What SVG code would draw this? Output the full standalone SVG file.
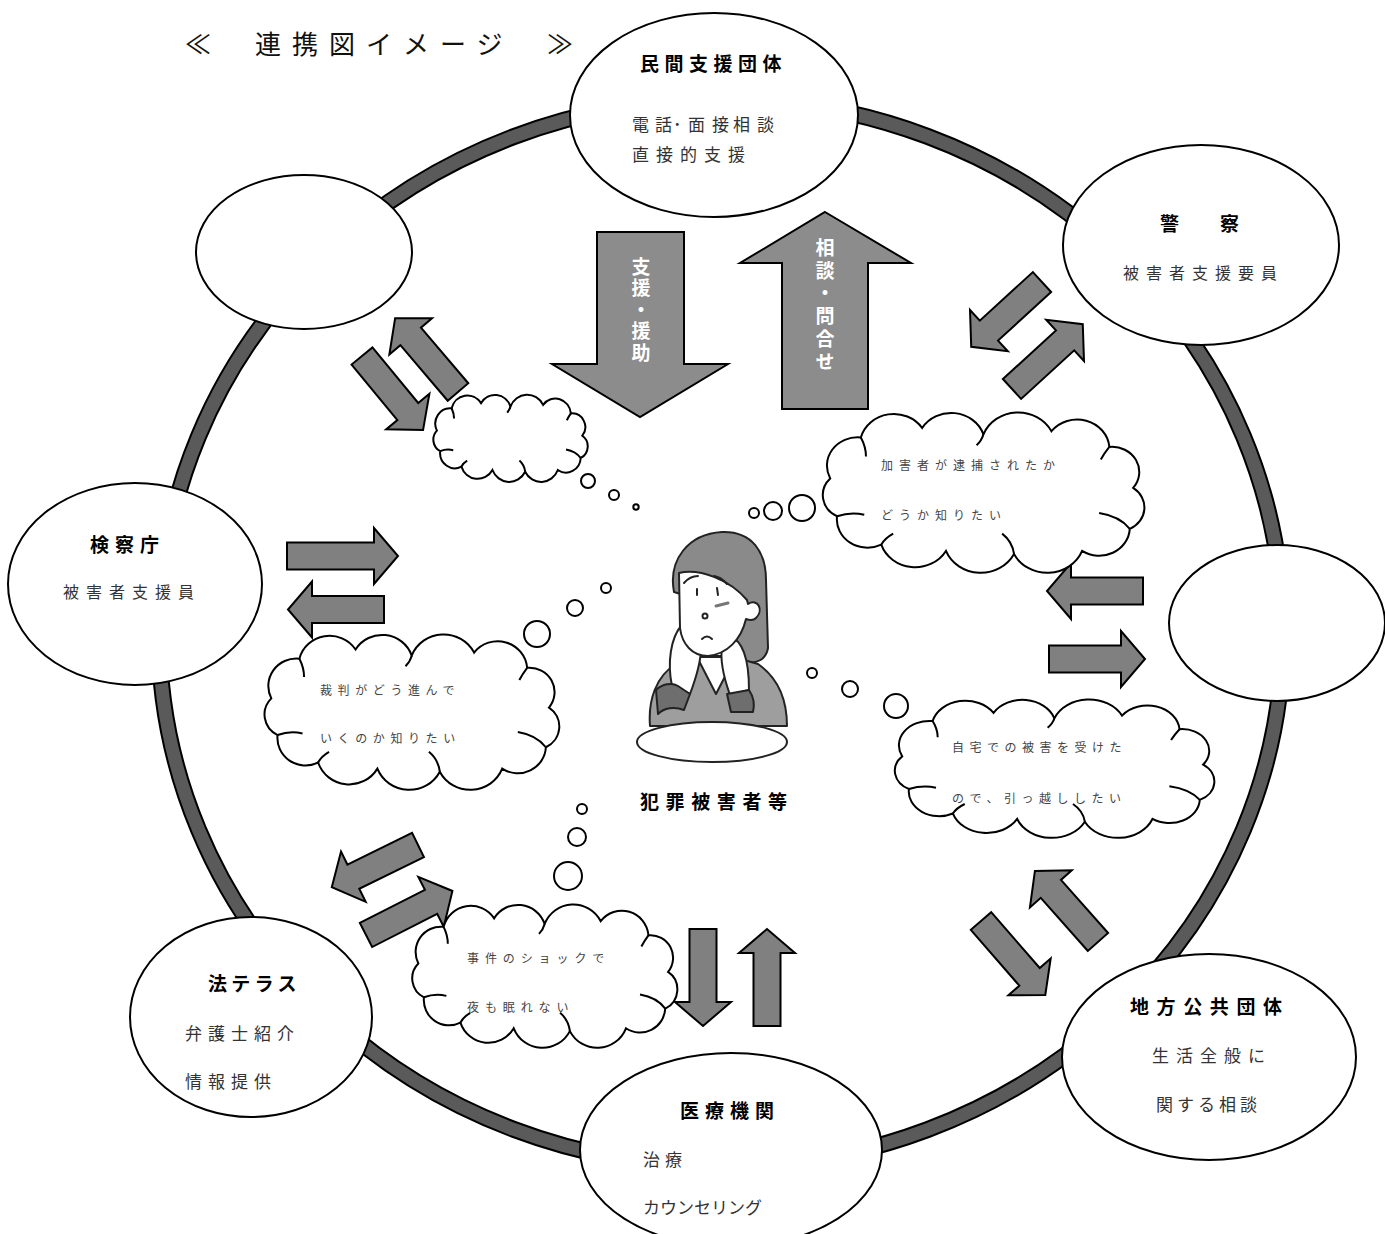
<svg xmlns="http://www.w3.org/2000/svg" xmlns:xlink="http://www.w3.org/1999/xlink" width="1385" height="1234" viewBox="0 0 1385 1234">
  <style>
    .node { fill: #fff; stroke: #000; stroke-width: 2; }
    .head { font-family: "Noto Sans CJK JP", sans-serif; font-weight: 700; font-size: 19px; fill: #000; }
    .sub { font-family: "Noto Sans CJK JP", sans-serif; font-weight: 400; font-size: 17px; fill: #333; }
    .small { font-family: "Noto Sans CJK JP", sans-serif; font-weight: 400; font-size: 16px; fill: #333; }
    .say { font-family: "Noto Sans CJK JP", sans-serif; font-weight: 400; font-size: 12px; fill: #444; }
    .title { font-family: "Liberation Serif", "Noto Sans CJK JP", serif; font-size: 26px; fill: #111; }
    .big { fill: #8c8c8c; stroke: #000; stroke-width: 2; stroke-linejoin: miter; }
    .big-label { font-family: "Noto Sans CJK JP", sans-serif; font-weight: 700; font-size: 19px; fill: #fff; writing-mode: vertical-rl; }
    .arr { fill: #808080; stroke: #000; stroke-width: 2; stroke-linejoin: miter; }
    .cloud-body { fill: #fff; stroke: #000; stroke-width: 2; vector-effect: non-scaling-stroke; }
    .cloud-fold { fill: none; stroke: #000; stroke-width: 2; vector-effect: non-scaling-stroke; }
    .bubble { fill: #fff; stroke: #000; stroke-width: 2; }
    .ink { stroke: #222; stroke-width: 2; stroke-linejoin: round; stroke-linecap: round; }
  </style>
  <defs>
    <!-- thought cloud in a 200x100 box -->
    <g id="cloud">
      <path class="cloud-body" d="M12,40 A18,18 0 0 1 30,14 A20,20 0 0 1 66,8 A20,20 0 0 1 102,12 A22,22 0 0 1 142,10 A19,19 0 0 1 176,20 A16,16 0 0 1 190,46 A15,15 0 0 1 188,72 A18,18 0 0 1 160,86 A22,22 0 0 1 120,88 A22,22 0 0 1 80,86 A21,21 0 0 1 42,82 A18,18 0 0 1 16,64 A15,15 0 0 1 12,40 Z"/>
      <path class="cloud-fold" d="M30,14 Q33,20 33,26 M102,12 Q101,16 98,19 M176,20 Q173,24 171,28 M188,72 Q182,64 170,62 M120,88 Q119,80 113,75 M42,82 Q44,78 49,75 M16,64 Q24,61 32,63"/>
    </g>
  </defs>

  <rect width="1385" height="1234" fill="#fff"/>

  <!-- title -->
  <text class="title" y="54"><tspan x="185">≪</tspan><tspan x="255" letter-spacing="11">連携図イメージ</tspan><tspan x="547">≫</tspan></text>

  <!-- outer ring -->
  <g id="ring">
    <ellipse cx="721" cy="633" rx="562" ry="534" fill="none" stroke="#000" stroke-width="17"/>
    <ellipse cx="721" cy="633" rx="562" ry="534" fill="none" stroke="#5a5a5a" stroke-width="13"/>
  </g>

  <!-- arrows between the victim and the support bodies -->
  <g id="connectors">
    <path class="big" d="M597,232 H684 V364 H728 L640,417 L552,364 H597 Z"/>
    <text class="big-label" x="641" y="257" letter-spacing="2.5">支援・援助</text>
    <path class="big" d="M825,212 L911,263 H868 V409 H782 V263 H740 Z"/>
    <text class="big-label" x="825" y="238" letter-spacing="3.8">相談・問合せ</text>

    <path class="arr" transform="translate(362,356) rotate(50.5)" d="M0,-13.5H72V-28L96,0L72,28V13.5H0Z"/>
    <path class="arr" transform="translate(458,392) rotate(-130.4)" d="M0,-13.5H73V-28L97,0L73,28V13.5H0Z"/>
    <path class="arr" transform="translate(1042,282) rotate(137.5)" d="M0,-13.5H72V-28L96,0L72,28V13.5H0Z"/>
    <path class="arr" transform="translate(1012,389) rotate(-42.5)" d="M0,-13.5H72V-28L96,0L72,28V13.5H0Z"/>
    <path class="arr" transform="translate(287,556)" d="M0,-13.5H87V-28L111,0L87,28V13.5H0Z"/>
    <path class="arr" transform="translate(384,609.5) rotate(180)" d="M0,-13.5H72V-28L96,0L72,28V13.5H0Z"/>
    <path class="arr" transform="translate(1143,591) rotate(180)" d="M0,-13.5H72V-28L96,0L72,28V13.5H0Z"/>
    <path class="arr" transform="translate(1049,659)" d="M0,-13.5H72V-28L96,0L72,28V13.5H0Z"/>
    <path class="arr" transform="translate(418,845) rotate(153.9)" d="M0,-13.5H72V-28L96,0L72,28V13.5H0Z"/>
    <path class="arr" transform="translate(366,935) rotate(-27)" d="M0,-13.5H73V-28L97,0L73,28V13.5H0Z"/>
    <path class="arr" transform="translate(703,929) rotate(90)" d="M0,-13.5H73V-28L97,0L73,28V13.5H0Z"/>
    <path class="arr" transform="translate(767,1026) rotate(-90)" d="M0,-13.5H73V-28L97,0L73,28V13.5H0Z"/>
    <path class="arr" transform="translate(981,921) rotate(49)" d="M0,-13.5H74V-28L98,0L74,28V13.5H0Z"/>
    <path class="arr" transform="translate(1098,942) rotate(-131.6)" d="M0,-13.5H71V-28L95,0L71,28V13.5H0Z"/>
  </g>

  <!-- support bodies -->
  <g id="minkan">
    <ellipse class="node" cx="714" cy="115" rx="144" ry="102"/>
    <text class="head" x="640" y="71" letter-spacing="5.5">民間支援団体</text>
    <text class="sub" x="632 655 673 688 712 733 757" y="131">電話･面接相談</text>
    <text class="sub" x="632" y="161" letter-spacing="7">直接的支援</text>
  </g>
  <g id="blank-left">
    <ellipse class="node" cx="304" cy="252" rx="108" ry="77"/>
  </g>
  <g id="police">
    <ellipse class="node" cx="1201" cy="245" rx="138" ry="100"/>
    <text class="head" x="1160" y="231" letter-spacing="11">警　察</text>
    <text class="small" x="1123" y="279" letter-spacing="7">被害者支援要員</text>
  </g>
  <g id="prosecutor">
    <ellipse class="node" cx="135" cy="584" rx="127" ry="101"/>
    <text class="head" x="90" y="552" letter-spacing="6">検察庁</text>
    <text class="small" x="63" y="598" letter-spacing="7">被害者支援員</text>
  </g>
  <g id="blank-right">
    <ellipse class="node" cx="1277" cy="623" rx="108" ry="78"/>
  </g>
  <g id="local-gov">
    <ellipse class="node" cx="1209" cy="1057" rx="147" ry="103"/>
    <text class="head" x="1130" y="1014" letter-spacing="7.6">地方公共団体</text>
    <text class="sub" x="1152" y="1062" letter-spacing="7">生活全般に</text>
    <text class="sub" x="1156" y="1111" letter-spacing="4">関する相談</text>
  </g>
  <g id="medical">
    <ellipse class="node" cx="731" cy="1150" rx="151" ry="97"/>
    <text class="head" x="680" y="1118" letter-spacing="6">医療機関</text>
    <text class="sub" x="643" y="1166" letter-spacing="5">治療</text>
    <text class="sub" x="643" y="1214">カウンセリング</text>
  </g>
  <g id="houterasu">
    <ellipse class="node" cx="251" cy="1017" rx="121" ry="100"/>
    <text class="head" x="208" y="991" letter-spacing="4.3">法テラス</text>
    <text class="sub" x="185" y="1040" letter-spacing="6">弁護士紹介</text>
    <text class="sub" x="185" y="1088" letter-spacing="6">情報提供</text>
  </g>

  <!-- thoughts -->
  <g id="thought-top">
    <use xlink:href="#cloud" href="#cloud" transform="translate(427.1,396.3) scale(0.817,0.857)"/>
    <circle class="bubble" cx="588" cy="481" r="7"/>
    <circle class="bubble" cx="614" cy="495" r="5"/>
    <circle class="bubble" cx="636" cy="507" r="2.7"/>
  </g>
  <g id="thought-arrest">
    <use xlink:href="#cloud" href="#cloud" transform="translate(809.8,415.4) scale(1.702,1.576)"/>
    <circle class="bubble" cx="802" cy="508" r="13"/>
    <circle class="bubble" cx="773" cy="511" r="9"/>
    <circle class="bubble" cx="754" cy="513" r="5"/>
    <text class="say" x="881" y="470" letter-spacing="6">加害者が逮捕されたか</text>
    <text class="say" x="881" y="520" letter-spacing="6">どうか知りたい</text>
  </g>
  <g id="thought-trial">
    <use xlink:href="#cloud" href="#cloud" transform="translate(252.6,637.3) scale(1.560,1.527)"/>
    <circle class="bubble" cx="606" cy="588" r="5"/>
    <circle class="bubble" cx="575" cy="608" r="8"/>
    <circle class="bubble" cx="537" cy="634" r="13"/>
    <text class="say" x="320" y="695" letter-spacing="5.6">裁判がどう進んで</text>
    <text class="say" x="320" y="743" letter-spacing="5.6">いくのか知りたい</text>
  </g>
  <g id="thought-move">
    <use xlink:href="#cloud" href="#cloud" transform="translate(881.9,702) scale(1.691,1.360)"/>
    <circle class="bubble" cx="812" cy="673" r="5"/>
    <circle class="bubble" cx="850" cy="689" r="8"/>
    <circle class="bubble" cx="896" cy="706" r="12"/>
    <text class="say" x="952" y="752" letter-spacing="5.5">自宅での被害を受けた</text>
    <text class="say" x="952" y="803" letter-spacing="5.5">ので、引っ越ししたい</text>
  </g>
  <g id="thought-sleep">
    <use xlink:href="#cloud" href="#cloud" transform="translate(401.5,907.1) scale(1.403,1.409)"/>
    <circle class="bubble" cx="582" cy="809" r="5"/>
    <circle class="bubble" cx="577" cy="837" r="9"/>
    <circle class="bubble" cx="568" cy="876" r="14"/>
    <text class="say" x="467" y="963" letter-spacing="5.9">事件のショックで</text>
    <text class="say" x="467" y="1012" letter-spacing="5.9">夜も眠れない</text>
  </g>

  <!-- the victim at the centre -->
  <g id="victim">
    <!-- hair -->
    <path class="ink" fill="#8a8a8a" d="M674,592 C668,560 688,534 722,532 C752,531 766,552 766,580 L768,648 C766,660 756,664 746,662 L700,600 Z"/>
    <!-- sweater -->
    <path class="ink" fill="#9e9e9e" d="M650,726 C648,700 656,676 676,664 L700,656 L730,656 L758,664 C778,678 787,700 787,726 Z"/>
    <path class="ink" fill="#fff" d="M697,657 L716,694 L735,657 Z"/>
    <!-- hands under the chin -->
    <path class="ink" fill="#fff" d="M681,626 C671,638 667,662 672,686 L690,694 C696,678 701,660 701,648 C699,640 690,632 681,626 Z"/>
    <path class="ink" fill="#fff" d="M729,636 C742,640 749,658 749,690 L730,695 C724,678 720,660 722,648 Z"/>
    <!-- cuffs -->
    <path class="ink" fill="#6e6e6e" d="M656,690 C662,684 672,682 678,686 L690,694 L684,710 C674,706 664,708 658,714 Z"/>
    <path class="ink" fill="#6e6e6e" d="M727,694 L749,690 C753,696 755,704 753,712 L731,712 Z"/>
    <!-- face -->
    <path class="ink" fill="#fff" d="M679,573 C700,568 730,580 747,600 L748,604 C758,598 764,610 756,618 C753,621 749,620 746,619 C741,640 727,654 708,656 C692,656 682,644 680,628 Z"/>
    <path class="ink" fill="none" d="M684,583 Q690,576 698,576 M714,576 Q721,577 727,584 M697,589 L697,595 M717,588 L718,595 M702,639 Q707,634 712,639"/>
    <path fill="none" stroke="#777" stroke-width="3" stroke-linecap="round" d="M716,606 L728,603"/>
    <circle class="ink" fill="none" cx="705" cy="616" r="2.5"/>
    <!-- table -->
    <ellipse class="ink" fill="#fff" cx="712" cy="742" rx="75" ry="20"/>
    <text class="head" x="640" y="809" letter-spacing="6.6">犯罪被害者等</text>
  </g>
</svg>
